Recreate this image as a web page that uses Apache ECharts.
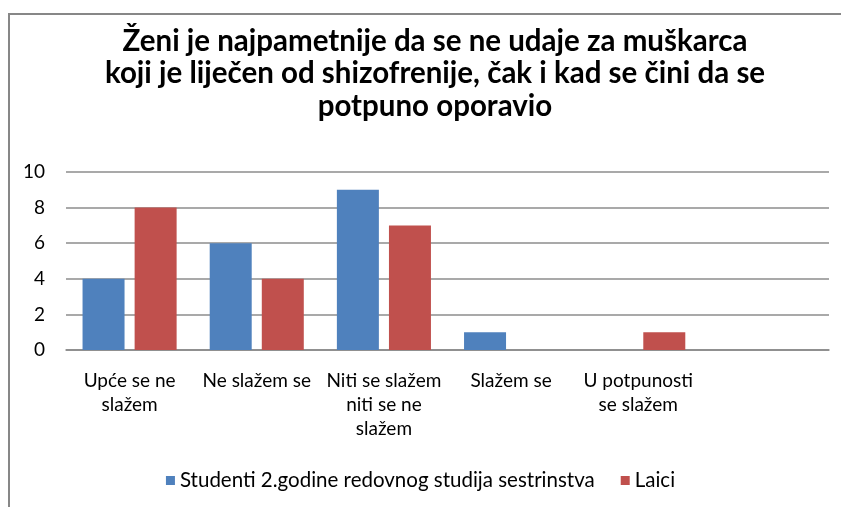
<!DOCTYPE html>
<html lang="hr">

<head>
    <meta charset="UTF-8">
    <title>Ženi je najpametnije</title>
</head>

<body style="margin: 0; background: #fff">
    <div id="main" style="width: 841px; height: 507px"></div>
    <script src="https://cdn.jsdelivr.net/npm/echarts@6/dist/echarts.min.js"></script>
    <script type="text/javascript">

        var categories = [
            'Upće se ne\nslažem',
            'Ne slažem se',
            'Niti se slažem\nniti se ne\nslažem',
            'Slažem se',
            'U potpunosti\nse slažem',
            ''
        ];
        var studenti = [4, 6, 9, 1, 0, 0];
        var laici = [8, 4, 7, 0, 1, 0];
        var seriesNames = ['Studenti 2.godine redovnog studija sestrinstva', 'Laici'];
        var yTicks = { min: 0, max: 10, interval: 2 };

        var font = 'Lato, "Open Sans", sans-serif';

        var myChart = echarts.init(document.getElementById('main'));
        var option = {
            animation: false,
            backgroundColor: '#fff',
            textStyle: { fontFamily: font },
            graphic: [{
                type: 'rect',
                shape: { x: 9, y: 14, width: 900, height: 600 },
                style: { fill: 'none', stroke: '#878787', lineWidth: 2 },
                silent: true
            }],
            title: {
                text: 'Ženi je najpametnije da se ne udaje za muškarca\nkoji je liječen od shizofrenije, čak i kad se čini da se\npotpuno oporavio',
                left: 430,
                textAlign: 'center',
                top: 20,
                textStyle: {
                    fontFamily: font,
                    fontSize: 29.5,
                    fontWeight: 'bold',
                    lineHeight: 32.5,
                    color: '#000'
                }
            },
            legend: {
                data: seriesNames,
                bottom: 11,
                left: 'center',
                itemWidth: 9,
                itemHeight: 9,
                itemGap: 26,
                icon: 'rect',
                textStyle: { fontFamily: font, fontSize: 20.5, color: '#000' }
            },
            grid: { left: 66, right: 12, top: 172, bottom: 157 },
            xAxis: {
                type: 'category',
                data: categories,
                axisTick: { show: false },
                axisLine: { lineStyle: { color: '#888', width: 1.5 } },
                axisLabel: {
                    interval: 0,
                    margin: 19,
                    fontFamily: font,
                    fontSize: 19,
                    lineHeight: 24,
                    color: '#000',
                    verticalAlign: 'top'
                }
            },
            yAxis: {
                type: 'value',
                min: yTicks.min,
                max: yTicks.max,
                interval: yTicks.interval,
                axisLine: { show: false },
                axisTick: { show: false },
                splitLine: { lineStyle: { color: '#8c8c8c', width: 1.5 } },
                axisLabel: { fontFamily: font, fontSize: 19, color: '#000', margin: 21 }
            },
            series: [
                {
                    name: seriesNames[0],
                    type: 'bar',
                    data: studenti,
                    barWidth: 42,
                    barGap: '24%',
                    itemStyle: { color: '#4f81bd' }
                },
                {
                    name: seriesNames[1],
                    type: 'bar',
                    data: laici,
                    barWidth: 42,
                    itemStyle: { color: '#c0504d' }
                }
            ]
        };

        myChart.setOption(option);

    </script>
</body>

</html>
